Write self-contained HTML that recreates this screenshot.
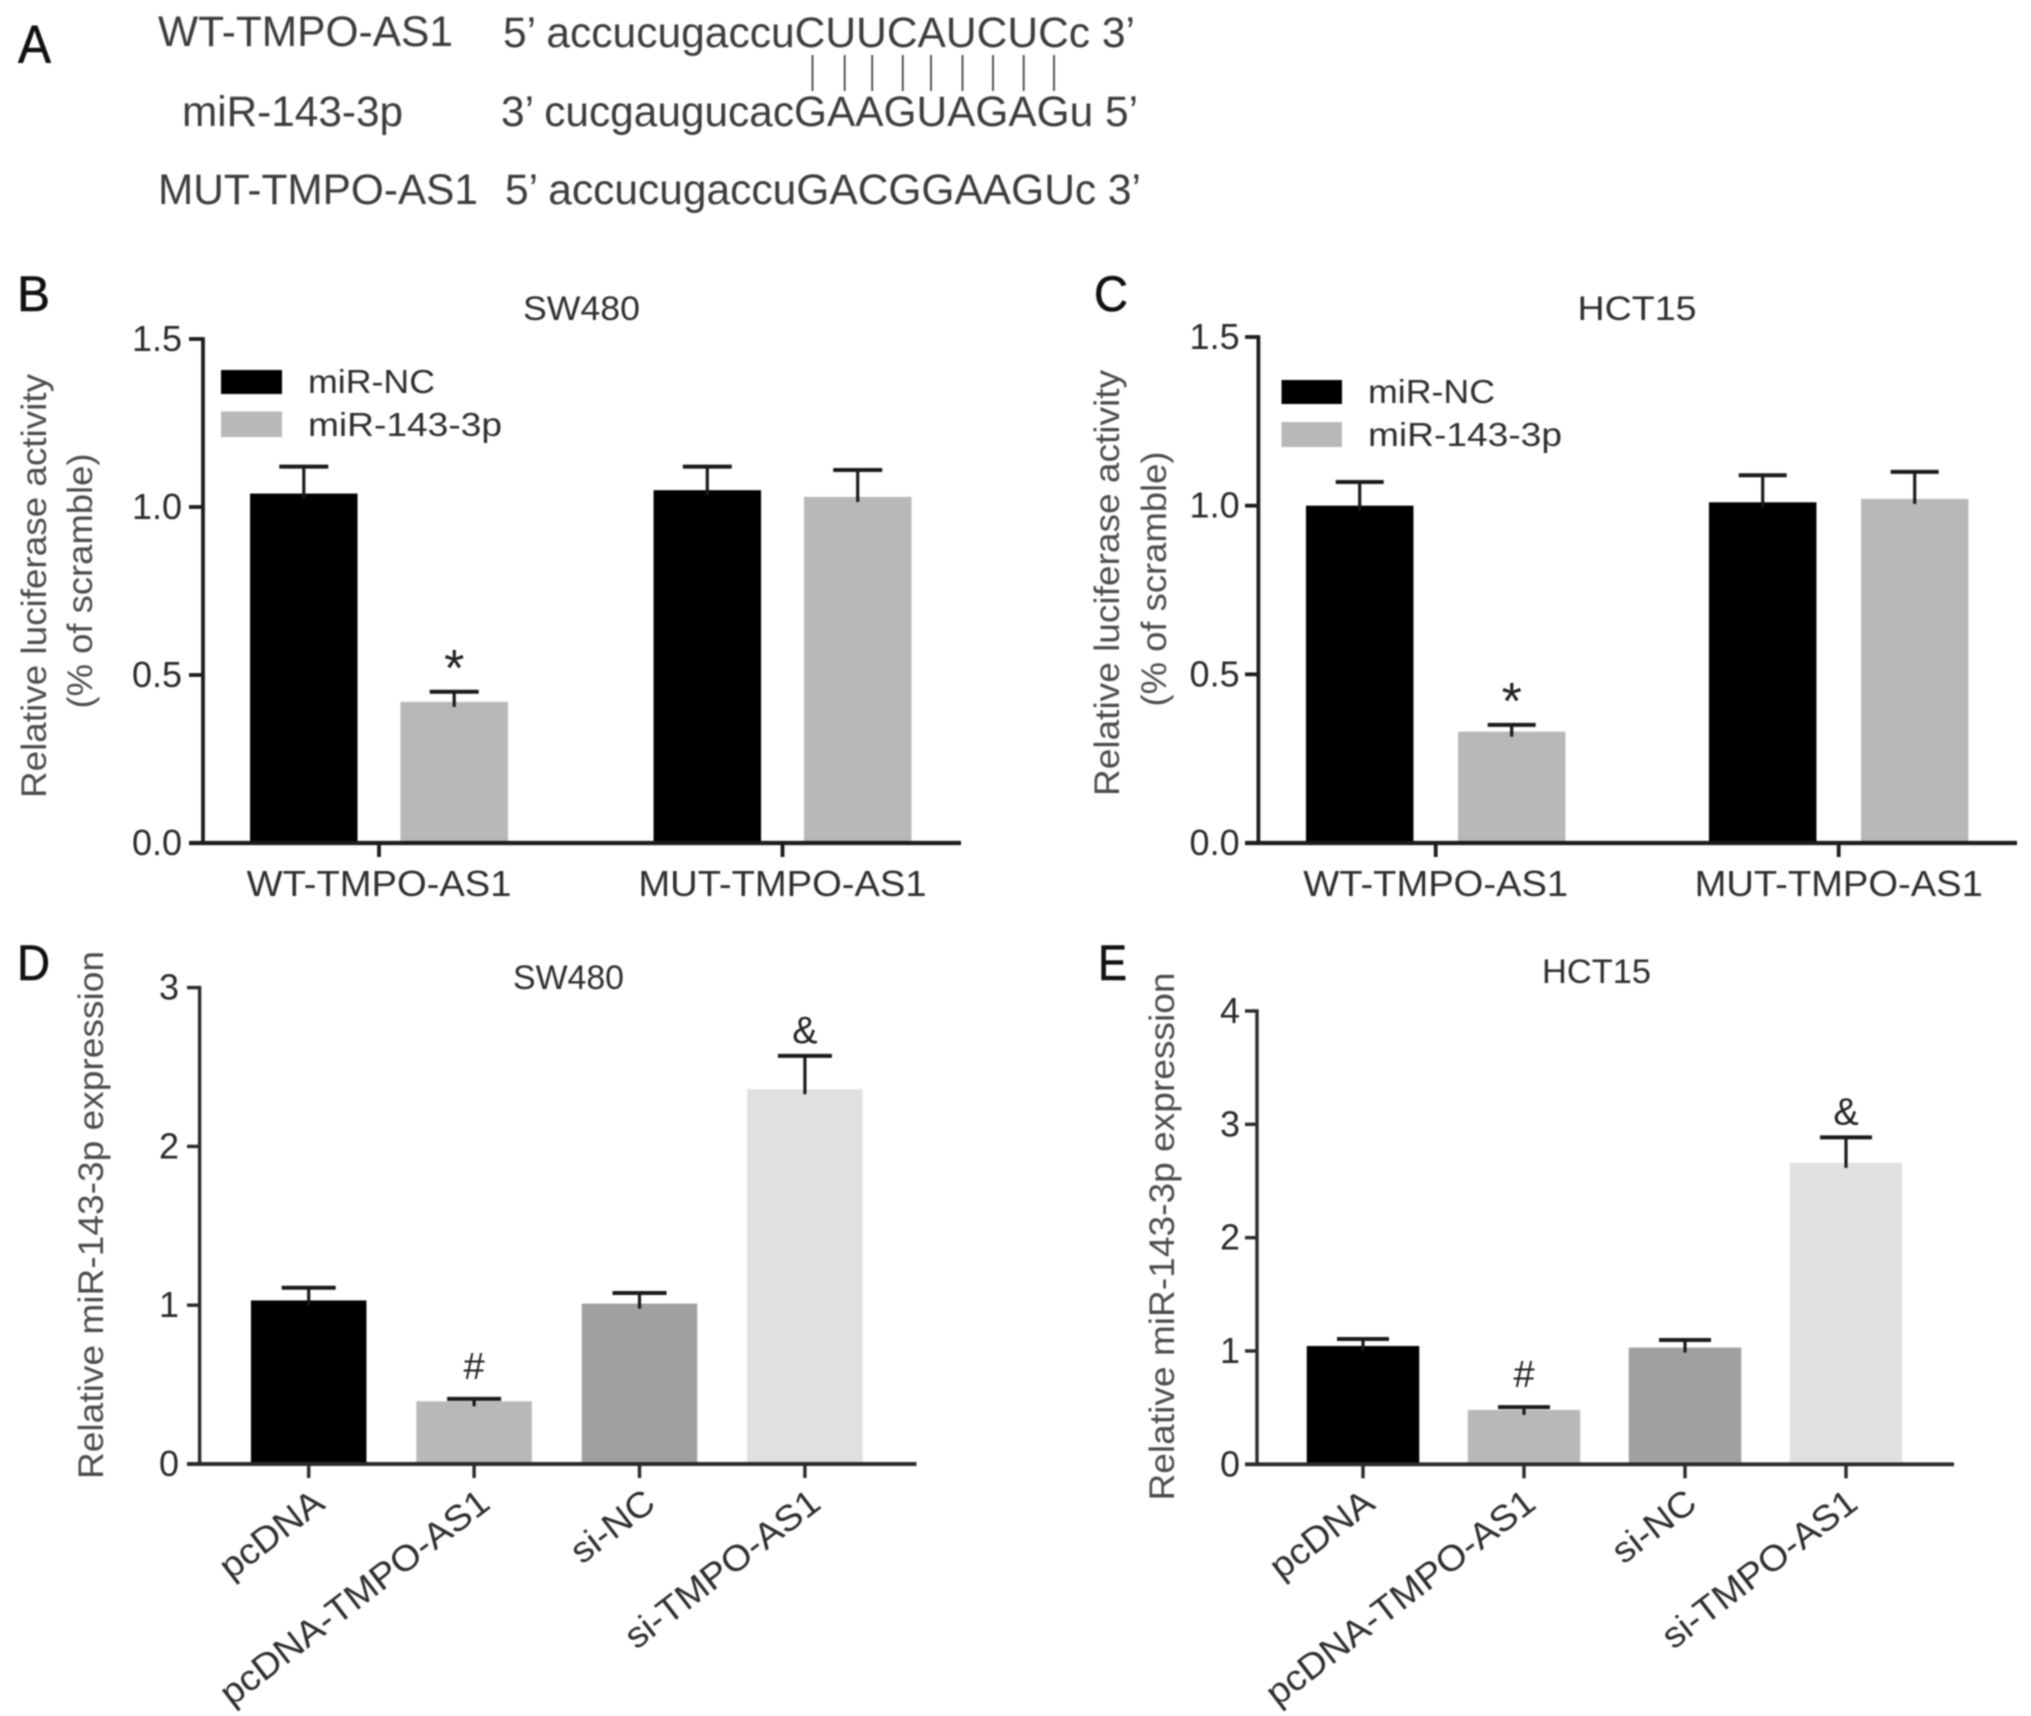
<!DOCTYPE html>
<html lang="en">
<head>
<meta charset="utf-8">
<title>TMPO-AS1 and miR-143-3p figure</title>
<style>
  html, body { margin: 0; padding: 0; background: #fff; }
  body { width: 2031px; height: 1716px; overflow: hidden; }
  svg { display: block; filter: blur(0.7px); font-family: "Liberation Sans", Arial, sans-serif; }
</style>
</head>
<body>
<svg id="figure" xmlns="http://www.w3.org/2000/svg" width="2031" height="1716" viewBox="0 0 2031 1716">
  <rect x="0" y="0" width="2031" height="1716" fill="#fff"/>

  <!-- Panel A -->
  <g id="panel-a" fill="#3c3c3c" font-size="43">
    <text x="18" y="63" font-size="54" fill="#111" stroke="#111" stroke-width="0.6" textLength="33" lengthAdjust="spacingAndGlyphs">A</text>
    <text x="158" y="46" textLength="295" lengthAdjust="spacingAndGlyphs">WT-TMPO-AS1</text>
    <text x="503" y="47" textLength="632" lengthAdjust="spacingAndGlyphs">5’ accucugaccuCUUCAUCUCc 3’</text>
    <text x="182" y="126" textLength="221" lengthAdjust="spacingAndGlyphs">miR-143-3p</text>
    <text x="501" y="126" textLength="637" lengthAdjust="spacingAndGlyphs">3’ cucgaugucacGAAGUAGAGu 5’</text>
    <text x="158" y="204" textLength="320" lengthAdjust="spacingAndGlyphs">MUT-TMPO-AS1</text>
    <text x="505" y="204" textLength="636" lengthAdjust="spacingAndGlyphs">5’ accucugaccuGACGGAAGUc 3’</text>
    <g stroke="#444" stroke-width="1.8">
      <line x1="812.5" x2="812.5" y1="55" y2="91"/>
      <line x1="844.7" x2="844.7" y1="55" y2="91"/>
      <line x1="872.2" x2="872.2" y1="55" y2="91"/>
      <line x1="902.8" x2="902.8" y1="55" y2="91"/>
      <line x1="931" x2="931" y1="55" y2="91"/>
      <line x1="962.5" x2="962.5" y1="55" y2="91"/>
      <line x1="993" x2="993" y1="55" y2="91"/>
      <line x1="1023.7" x2="1023.7" y1="55" y2="91"/>
      <line x1="1054" x2="1054" y1="55" y2="91"/>
    </g>
  </g>

  <!-- Panel B static -->
  <g id="panel-b">
    <text x="17" y="311" font-size="50" fill="#111" stroke="#111" stroke-width="0.6" textLength="33" lengthAdjust="spacingAndGlyphs">B</text>
    <text x="523" y="320" font-size="34" fill="#2e2e2e" textLength="117" lengthAdjust="spacingAndGlyphs">SW480</text>
    <text transform="translate(46,586) rotate(-90)" text-anchor="middle" font-size="35" fill="#4c4c4c" textLength="424" lengthAdjust="spacingAndGlyphs">Relative luciferase activity</text>
    <text transform="translate(92,581) rotate(-90)" text-anchor="middle" font-size="35" fill="#4c4c4c" textLength="255" lengthAdjust="spacingAndGlyphs">(% of scramble)</text>
    <rect x="221" y="370" width="61" height="24" fill="#000"/>
    <rect x="221" y="411.5" width="61" height="25.5" fill="#b8b8b8"/>
    <text x="308" y="393" font-size="33" fill="#2e2e2e" textLength="127" lengthAdjust="spacingAndGlyphs">miR-NC</text>
    <text x="308" y="436" font-size="33" fill="#2e2e2e" textLength="194" lengthAdjust="spacingAndGlyphs">miR-143-3p</text>
  </g>

  <!-- Panel C static -->
  <g id="panel-c">
    <text x="1094" y="311" font-size="50" fill="#111" stroke="#111" stroke-width="0.6" textLength="34" lengthAdjust="spacingAndGlyphs">C</text>
    <text x="1577.5" y="320" font-size="34" fill="#2e2e2e" textLength="119" lengthAdjust="spacingAndGlyphs">HCT15</text>
    <text transform="translate(1119,583) rotate(-90)" text-anchor="middle" font-size="35" fill="#4c4c4c" textLength="426" lengthAdjust="spacingAndGlyphs">Relative luciferase activity</text>
    <text transform="translate(1166,579) rotate(-90)" text-anchor="middle" font-size="35" fill="#4c4c4c" textLength="255" lengthAdjust="spacingAndGlyphs">(% of scramble)</text>
    <rect x="1281.5" y="380" width="60.5" height="24" fill="#000"/>
    <rect x="1281.5" y="422" width="60.5" height="25" fill="#b8b8b8"/>
    <text x="1368" y="403" font-size="33" fill="#2e2e2e" textLength="127" lengthAdjust="spacingAndGlyphs">miR-NC</text>
    <text x="1368" y="446" font-size="33" fill="#2e2e2e" textLength="194" lengthAdjust="spacingAndGlyphs">miR-143-3p</text>
  </g>

  <!-- Panel D static -->
  <g id="panel-d">
    <text x="17" y="980" font-size="50" fill="#111" stroke="#111" stroke-width="0.6" textLength="33" lengthAdjust="spacingAndGlyphs">D</text>
    <text x="513" y="989" font-size="34" fill="#2e2e2e" textLength="111" lengthAdjust="spacingAndGlyphs">SW480</text>
    <text transform="translate(103,1215) rotate(-90)" text-anchor="middle" font-size="35" fill="#4c4c4c" textLength="528" lengthAdjust="spacingAndGlyphs">Relative miR-143-3p expression</text>
  </g>

  <!-- Panel E static -->
  <g id="panel-e">
    <text x="1098" y="980" font-size="50" fill="#111" stroke="#111" stroke-width="0.6" textLength="29" lengthAdjust="spacingAndGlyphs">E</text>
    <text x="1542" y="983" font-size="34" fill="#2e2e2e" textLength="109" lengthAdjust="spacingAndGlyphs">HCT15</text>
    <text transform="translate(1174,1236.5) rotate(-90)" text-anchor="middle" font-size="35" fill="#4c4c4c" textLength="528" lengthAdjust="spacingAndGlyphs">Relative miR-143-3p expression</text>
  </g>
</svg>

<script>
// Panel B data
const bCategories = ['WT-TMPO-AS1', 'MUT-TMPO-AS1'];
const bTickValues = [0, 0.5, 1, 1.5];
const bTickLabels = ['0.0', '0.5', '1.0', '1.5'];
const bMirNC = [1.04, 1.05];
const bMirNCError = [0.08, 0.07];
const bMir143 = [0.42, 1.03];
const bMir143Error = [0.03, 0.08];
const bMir143Marks = ['*', ''];

// Panel C data
const cCategories = ['WT-TMPO-AS1', 'MUT-TMPO-AS1'];
const cTickValues = [0, 0.5, 1, 1.5];
const cTickLabels = ['0.0', '0.5', '1.0', '1.5'];
const cMirNC = [1.00, 1.01];
const cMirNCError = [0.07, 0.08];
const cMir143 = [0.33, 1.02];
const cMir143Error = [0.02, 0.08];
const cMir143Marks = ['*', ''];

// Panel D data
const dCategories = ['pcDNA', 'pcDNA-TMPO-AS1', 'si-NC', 'si-TMPO-AS1'];
const dTickValues = [0, 1, 2, 3];
const dTickLabels = ['0', '1', '2', '3'];
const dValues = [1.03, 0.395, 1.01, 2.36];
const dErrors = [0.08, 0.015, 0.067, 0.21];
const dMarks = ['', '#', '', '&'];

// Panel E data
const eCategories = ['pcDNA', 'pcDNA-TMPO-AS1', 'si-NC', 'si-TMPO-AS1'];
const eTickValues = [0, 1, 2, 3, 4];
const eTickLabels = ['0', '1', '2', '3', '4'];
const eValues = [1.044, 0.48, 1.03, 2.66];
const eErrors = [0.062, 0.024, 0.067, 0.225];
const eMarks = ['', '#', '', '&'];

const fourBarColors = ['#000000', '#b8b8b8', '#a0a0a0', '#e0e0e0'];

const SVG_NS = 'http://www.w3.org/2000/svg';

function shape(parent, tag, name, attrs) {
  const el = document.createElementNS(SVG_NS, tag);
  
  
  for (const key in attrs) el.setAttribute(key, attrs[key]);
  parent.appendChild(el);
  return el;
}

function label(parent, name, str, x, y, size, fill, anchor, sx, rot) {
  const el = document.createElementNS(SVG_NS, 'text');
  
  
  el.setAttribute('transform', 'translate(' + x + ',' + y + ') rotate(' + rot + ') scale(' + sx + ',1)');
  el.setAttribute('text-anchor', anchor);
  el.setAttribute('font-size', size);
  el.setAttribute('fill', fill);
  el.textContent = str;
  parent.appendChild(el);
  return el;
}

function makeYScale(p) {
  return function (v) { return p.zero - v * (p.zero - p.top) / p.max; };
}
function makeXScale(p) {
  return function (i) { return p.firstX + i * p.stepX; };
}

function drawYAxis(g, p, y, tickValues, tickLabels) {
  shape(g, 'line', 'y-axis-line', { x1: p.left, x2: p.left, y1: y(p.max) - 1.7, y2: p.zero, stroke: p.axisColor, 'stroke-width': p.axisWidth });
  tickValues.forEach(function (v, i) {
    shape(g, 'line', 'y-axis-tick', { x1: p.tickLeft, x2: p.left, y1: y(v), y2: y(v), stroke: p.axisColor, 'stroke-width': p.axisWidth });
    label(g, 'y-tick-label', tickLabels[i], p.labelRight, y(v) + 12, 36, '#2a2a2a', 'end', 1.0, 0);
  });
}

function drawXAxis(g, p, x, categories) {
  shape(g, 'line', 'x-axis-line', { x1: p.tickLeft, x2: p.right, y1: p.zero, y2: p.zero, stroke: p.axisColor, 'stroke-width': p.axisWidth + 0.5 });
  categories.forEach(function (c, i) {
    const cx = x(i);
    shape(g, 'line', 'x-axis-tick', { x1: cx, x2: cx, y1: p.zero, y2: p.zero + 14, stroke: p.axisColor, 'stroke-width': p.axisWidth });
    if (p.labelRot === 0) {
      label(g, 'x-tick-label', c, cx, p.labelY, 36, '#2e2e2e', 'middle', 1.06, 0);
    } else {
      label(g, 'x-tick-label', c, cx + p.labelDx, p.labelY, 36, '#2e2e2e', 'end', 1.06, p.labelRot);
    }
  });
}

function drawBar(g, p, y, cx, value, error, fill, mark, name) {
  const top = y(value);
  shape(g, 'rect', name, { x: cx - p.barWidth / 2, y: top, width: p.barWidth, height: p.zero - top, fill: fill });
  const errTop = y(value + error);
  shape(g, 'line', 'error-bar-stem', { x1: cx, x2: cx, y1: errTop, y2: top + 5, stroke: '#1a1a1a', 'stroke-width': 3.2 });
  shape(g, 'line', 'error-bar-cap', { x1: cx - p.capWidth / 2, x2: cx + p.capWidth / 2, y1: errTop, y2: errTop, stroke: '#1a1a1a', 'stroke-width': 4 });
  if (mark === '*') {
    label(g, 'significance-asterisk', mark, cx, errTop - 6, 52, '#222', 'middle', 1, 0);
  } else if (mark === '#') {
    label(g, 'significance-hash', mark, cx, errTop - 20, 38, '#222', 'middle', 1, 0);
  } else if (mark === '&') {
    label(g, 'significance-ampersand', mark, cx, errTop - 13, 38, '#222', 'middle', 1, 0);
  }
}

function drawGrouped(g, p, categories, tickValues, tickLabels, s1, e1, s2, e2, marks2) {
  const y = makeYScale(p);
  const x = makeXScale(p);
  categories.forEach(function (c, i) {
    drawBar(g, p, y, x(i) - p.offset, s1[i], e1[i], '#000000', '', 'bar-mir-nc');
    drawBar(g, p, y, x(i) + p.offset, s2[i], e2[i], '#b8b8b8', marks2[i], 'bar-mir-143-3p');
  });
  drawYAxis(g, p, y, tickValues, tickLabels);
  drawXAxis(g, p, x, categories);
}

function drawSimple(g, p, categories, tickValues, tickLabels, values, errors, marks) {
  const y = makeYScale(p);
  const x = makeXScale(p);
  categories.forEach(function (c, i) {
    drawBar(g, p, y, x(i), values[i], errors[i], fourBarColors[i], marks[i], 'bar-expression');
  });
  drawYAxis(g, p, y, tickValues, tickLabels);
  drawXAxis(g, p, x, categories);
}

drawGrouped(document.getElementById('panel-b'),
  { left: 203, top: 339, zero: 843, right: 961, tickLeft: 189, max: 1.5, firstX: 379, stepX: 403.5, offset: 75.2, barWidth: 107.5, capWidth: 49, labelRight: 182, labelY: 896, labelRot: 0, labelDx: 0, axisColor: '#1c1c1c', axisWidth: 3.8 },
  bCategories, bTickValues, bTickLabels, bMirNC, bMirNCError, bMir143, bMir143Error, bMir143Marks);

drawGrouped(document.getElementById('panel-c'),
  { left: 1258.4, top: 337, zero: 843, right: 2017, tickLeft: 1245, max: 1.5, firstX: 1435.7, stepX: 403, offset: 76, barWidth: 107.5, capWidth: 48, labelRight: 1239.6, labelY: 896, labelRot: 0, labelDx: 0, axisColor: '#1c1c1c', axisWidth: 3.8 },
  cCategories, cTickValues, cTickLabels, cMirNC, cMirNCError, cMir143, cMir143Error, cMir143Marks);

drawSimple(document.getElementById('panel-d'),
  { left: 199.6, top: 987.6, zero: 1464, right: 916.5, tickLeft: 187, max: 3, firstX: 308.7, stepX: 165.4, barWidth: 115.5, capWidth: 54, labelRight: 179, labelY: 1507, labelRot: -37.5, labelDx: 18, axisColor: '#2a2a2a', axisWidth: 3.4 },
  dCategories, dTickValues, dTickLabels, dValues, dErrors, dMarks);

drawSimple(document.getElementById('panel-e'),
  { left: 1257, top: 1011, zero: 1464.3, right: 1954, tickLeft: 1245, max: 4, firstX: 1363, stepX: 161, barWidth: 112.5, capWidth: 52, labelRight: 1240, labelY: 1507, labelRot: -37.5, labelDx: 14, axisColor: '#2a2a2a', axisWidth: 3.4 },
  eCategories, eTickValues, eTickLabels, eValues, eErrors, eMarks);
</script>
</body>
</html>
